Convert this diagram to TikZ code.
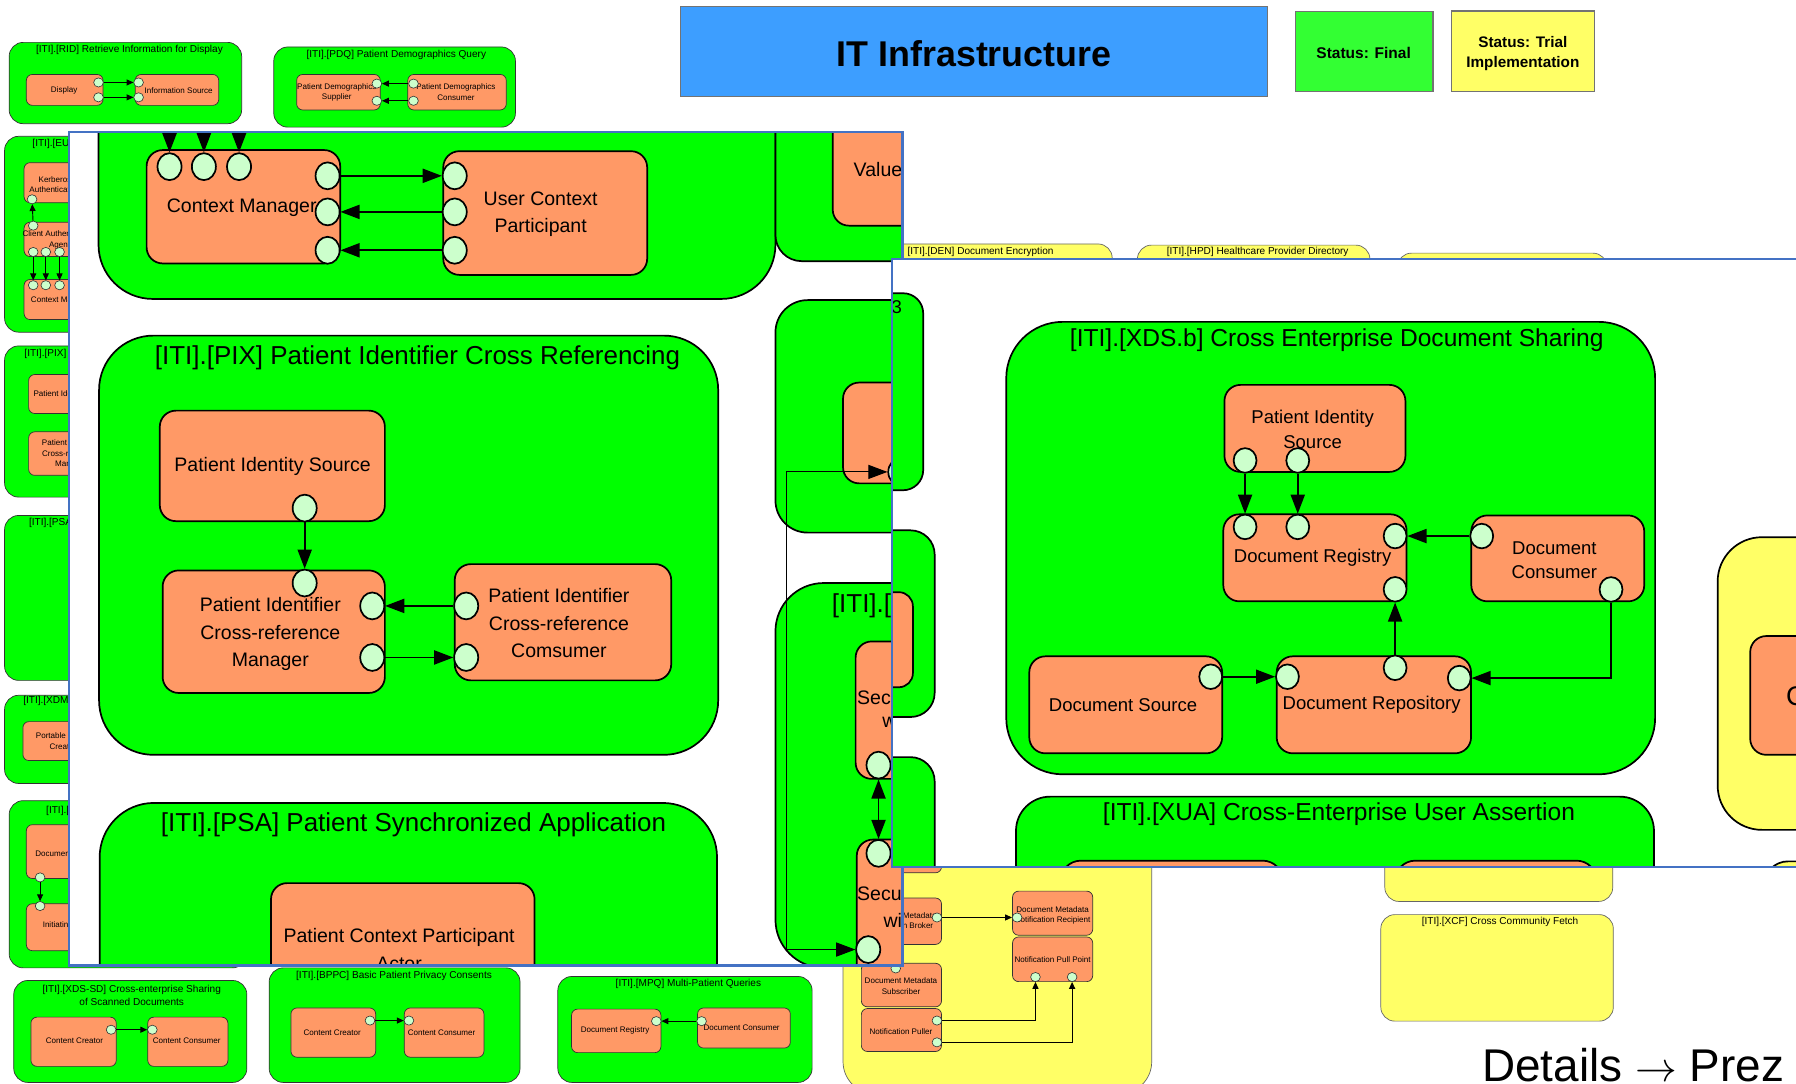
\documentclass[tikz,border=0pt]{standalone}
\usepackage{fontspec}
\setmainfont{Liberation Sans}
\usetikzlibrary{arrows.meta,shapes.geometric}
\definecolor{grpgreen}{RGB}{0,255,0}
\definecolor{actorfill}{RGB}{255,153,102}
\definecolor{portfill}{RGB}{204,255,204}
\definecolor{trialyellow}{RGB}{255,255,102}
\definecolor{finalgreen}{RGB}{51,255,51}
\definecolor{titleblue}{RGB}{61,158,255}
\definecolor{panelblue}{RGB}{68,114,196}
\begin{document}
\begin{tikzpicture}[x=0.02cm,y=0.02cm]
\tikzstyle{every node}+=[inner sep=0pt]
\tikzstyle{hdr}=[draw=black!55, line width=0.6pt]
\tikzstyle{sgrp}=[fill=grpgreen, draw=black!80, line width=0.35pt, rounded corners=7pt]
\tikzstyle{ygrp}=[fill=trialyellow, draw=black!60, line width=0.35pt, rounded corners=7pt]
\tikzstyle{sact}=[fill=actorfill, draw=black!80, line width=0.35pt, rounded corners=3pt]
\tikzstyle{sport}=[ellipse, draw=black!80, fill=portfill, line width=0.3pt, minimum width=0.17cm, minimum height=0.16cm]
\tikzstyle{slink}=[line width=0.45pt, -{Triangle[length=3.4pt,width=3pt]}]
\tikzstyle{stxt}=[font=\fontsize{4}{5.1}\selectfont, align=center]
\tikzstyle{sttl}=[font=\fontsize{5}{6.5}\selectfont, align=center]
\tikzstyle{grp}=[fill=grpgreen, draw=black, line width=0.85pt, rounded corners=27pt]
\tikzstyle{ypgrp}=[fill=trialyellow, draw=black, line width=0.85pt, rounded corners=22pt]
\tikzstyle{act}=[fill=actorfill, draw=black, line width=0.85pt, rounded corners=8pt]
\tikzstyle{port}=[ellipse, draw=black, fill=portfill, line width=0.85pt, minimum width=0.42cm, minimum height=0.47cm]
\tikzstyle{rport}=[port, minimum width=0.4cm, minimum height=0.43cm]
\tikzstyle{link}=[line width=0.85pt, -{Triangle[length=9.5pt,width=7pt]}]
\tikzstyle{blink}=[line width=0.85pt, {Triangle[length=9.5pt,width=7pt]}-{Triangle[length=9.5pt,width=7pt]}]
\tikzstyle{tlink}=[line width=0.5pt, {Triangle[length=9.5pt,width=7pt]}-{Triangle[length=9.5pt,width=7pt]}]
\tikzstyle{ltxt}=[font=\fontsize{9.7}{13.8}\selectfont, align=center]
\tikzstyle{lttl}=[font=\fontsize{12.9}{15}\selectfont]
\tikzstyle{rtxt}=[font=\fontsize{9.2}{12.3}\selectfont, align=center]
\tikzstyle{rttl}=[font=\fontsize{12.2}{14}\selectfont]
\tikzstyle{panel}=[draw=panelblue, line width=1.1pt]
\useasboundingbox (0,0) rectangle (1568,-946);
\clip (0,0) rectangle (1568,-946);
\fill [white] (0,0) rectangle (1568,-946);

\draw [hdr, fill=titleblue] (594.4,-5.8) rectangle (1106.5,-84.4);
\node [font=\bfseries\fontsize{17.8}{20}\selectfont] (itinfra) at (850.4,-47) {IT Infrastructure};
\draw [hdr, fill=finalgreen] (1131,-10) rectangle (1251,-80);
\node [font=\bfseries\fontsize{7.7}{9.9}\selectfont] (stfinal) at (1190.5,-46) {Status: Final};
\draw [hdr, fill=trialyellow] (1267,-9.6) rectangle (1392,-80);
\node [font=\bfseries\fontsize{7.6}{9.9}\selectfont, align=center] (sttrial) at (1329.5,-47) {Status: Trial\\Implementation};

\draw [sgrp] (8,-37) rectangle (211,-108);
\node [sttl] (ridttl) at (113,-44) {[ITI].[RID] Retrieve Information for Display};
\draw [sact] (23,-65) rectangle (90,-92);
\node [stxt] (ridd) at (56,-79) {Display};
\draw [sact] (118,-65) rectangle (191,-92);
\node [stxt] (ridi) at (156,-79) {Information Source};
\node [sport] (ridd1) at (86,-72) {};
\node [sport] (ridd2) at (86,-85) {};
\node [sport] (ridi1) at (121,-72) {};
\node [sport] (ridi2) at (121,-85) {};
\draw [slink] (ridd1) -- (ridi1);
\draw [slink] (ridd2) -- (ridi2);

\draw [sgrp] (239,-41) rectangle (450,-111);
\node [sttl] (pdqttl) at (346,-48) {[ITI].[PDQ] Patient Demographics Query};
\draw [sact] (259,-65) rectangle (332,-96);
\node [stxt] (pdqs) at (294,-80.5) {Patient Demographics\\Supplier};
\draw [sact] (356,-65) rectangle (442,-96);
\node [stxt] (pdqc) at (398,-80.5) {Patient Demographics\\Consumer};
\node [sport] (pdqs1) at (329,-73) {};
\node [sport] (pdqs2) at (329,-88) {};
\node [sport] (pdqc1) at (361,-73) {};
\node [sport] (pdqc2) at (361,-88) {};
\draw [slink] (pdqc1) -- (pdqs1);
\draw [slink] (pdqc2) -- (pdqs2);

\draw [sgrp] (4,-119) rectangle (215,-290);
\node [sttl, anchor=west] (euattl) at (28,-126) {[ITI].[EUA]};
\draw [sact] (21,-142) rectangle (110,-177);
\node [stxt] (euak) at (48,-161) {Kerberos\\Authentication};
\node [sport] (euaka) at (28,-174) {};
\draw [sact] (21,-194) rectangle (110,-224);
\node [stxt] (euac) at (52,-209.5) {Client Authentication\\Agent};
\node [sport] (euact) at (29,-197) {};
\node [sport] (euacb1) at (29,-220) {};
\node [sport] (euacb2) at (40,-220) {};
\node [sport] (euacb3) at (52,-220) {};
\draw [sact] (21,-244) rectangle (110,-279);
\node [stxt] (euacm) at (54,-262) {Context Manager};
\node [sport] (euacm1) at (29,-249) {};
\node [sport] (euacm2) at (40,-249) {};
\node [sport] (euacm3) at (52,-249) {};
\draw [slink] (euact) -- (euaka);
\draw [slink] (euacb1) -- (euacm1);
\draw [slink] (euacb2) -- (euacm2);
\draw [slink] (euacb3) -- (euacm3);

\draw [sgrp] (4,-302) rectangle (215,-434);
\node [sttl, anchor=west] (pixsttl) at (21,-309) {[ITI].[PIX]};
\draw [sact] (25,-327) rectangle (110,-361);
\node [stxt, anchor=west] (pixs1) at (29,-344) {Patient Identity Source};
\draw [sact] (25,-377) rectangle (110,-415);
\node [stxt] (pixs2) at (62,-396.5) {Patient Identifier\\Cross-reference\\Manager};

\draw [sgrp] (4,-450) rectangle (215,-594);
\node [sttl, anchor=west] (psasttl) at (25,-456.5) {[ITI].[PSA]};

\draw [sgrp] (4,-607) rectangle (215,-684);
\node [sttl, anchor=west] (xdmttl) at (20,-612) {[ITI].[XDM]};
\draw [sact] (20,-630) rectangle (110,-664);
\node [stxt] (xdma) at (55,-647) {Portable Media\\Creator};

\draw [sgrp] (8,-699) rectangle (215,-845);
\node [sttl, anchor=west] (xdrttl) at (40,-708) {[ITI].[XDR]};
\draw [sact] (23,-720) rectangle (110,-767);
\node [stxt, anchor=west] (xdra) at (30.5,-745) {Document};
\draw [sact] (23,-789) rectangle (110,-830);
\node [stxt, anchor=west] (xdrb) at (37,-808) {Initiating};
\node [sport] (xdrp1) at (35,-766) {};
\node [sport] (xdrp2) at (35,-791) {};
\draw [slink] (xdrp1) -- (xdrp2);

\draw [sgrp] (12,-856) rectangle (215.5,-945);
\node [sttl] (xdssdttl) at (115,-869) {[ITI].[XDS-SD] Cross-enterprise Sharing\\of Scanned Documents};
\draw [sact] (27,-888) rectangle (101.5,-931);
\node [stxt] (sdcr) at (65,-909) {Content Creator};
\draw [sact] (129,-888) rectangle (199,-931);
\node [stxt] (sdcc) at (163,-909) {Content Consumer};
\node [sport] (sdcrp) at (97,-899) {};
\node [sport] (sdccp) at (133,-899) {};
\draw [slink] (sdcrp) -- (sdccp);

\draw [sgrp] (235,-845) rectangle (454,-945);
\node [sttl] (bppcttl) at (344,-852) {[ITI].[BPPC] Basic Patient Privacy Consents};
\draw [sact] (254,-880) rectangle (328,-923);
\node [stxt] (bpcr) at (290,-902) {Content Creator};
\draw [sact] (353,-880) rectangle (422.5,-923);
\node [stxt] (bpcc) at (385.5,-902) {Content Consumer};
\node [sport] (bpcrp) at (323,-891) {};
\node [sport] (bpccp) at (357,-891) {};
\draw [slink] (bpcrp) -- (bpccp);

\draw [sgrp] (487,-852.5) rectangle (709,-945);
\node [sttl] (mpqttl) at (601,-859) {[ITI].[MPQ] Multi-Patient Queries};
\draw [sact] (499,-881) rectangle (577,-919);
\node [stxt] (mpqr) at (537,-900) {Document Registry};
\draw [sact] (609,-880) rectangle (690,-915);
\node [stxt] (mpqc) at (647.5,-897.5) {Document Consumer};
\node [sport] (mpqrp) at (573,-891.5) {};
\node [sport] (mpqcp) at (612.5,-891.5) {};
\draw [slink] (mpqcp) -- (mpqrp);

\draw [ygrp, rounded corners=16pt] (736,-700) rectangle (1005.5,-955);
\draw [sact] (752,-700) rectangle (822,-762);
\draw [sact] (752,-784) rectangle (822,-824.5);
\node [stxt] (ynb) at (786,-804) {Document Metadata\\Notification Broker};
\draw [sact] (884,-778) rectangle (954,-816.5);
\node [stxt] (ynr) at (919,-799) {Document Metadata\\Notification Recipient};
\draw [sact] (884,-818) rectangle (954,-857);
\node [stxt] (ynpp) at (919,-838) {Notification Pull Point};
\draw [sact] (752,-841) rectangle (822,-879);
\node [stxt] (yns) at (786.6,-861) {Document Metadata\\Subscriber};
\draw [sact] (752,-880.5) rectangle (822,-918);
\node [stxt] (ynpl) at (786.6,-900.6) {Notification Puller};
\node [sport] (ynbp) at (818,-801) {};
\node [sport] (ynrp) at (888,-801) {};
\node [sport] (ynpp1) at (904,-853) {};
\node [sport] (ynpp2) at (936,-853) {};
\node [sport] (ynsp) at (782,-845.5) {};
\node [sport] (ynpl1) at (818,-891) {};
\node [sport] (ynpl2) at (818,-910) {};
\draw [slink] (ynbp) -- (ynrp);
\draw [slink] (ynpl1) -| (ynpp1);
\draw [slink] (ynpl2) -| (ynpp2);

\draw [ygrp] (740,-213) rectangle (971,-400);
\node [sttl] (denttl) at (856,-219.5) {[ITI].[DEN] Document Encryption};
\draw [ygrp] (993,-214) rectangle (1196,-400);
\node [sttl] (hpdttl) at (1098,-220) {[ITI].[HPD] Healthcare Provider Directory};
\draw [ygrp] (1220,-221) rectangle (1403,-400);
\draw [ygrp] (1209,-600) rectangle (1408,-787);
\draw [ygrp] (1205.5,-798.5) rectangle (1408.5,-891.5);
\node [sttl] (xcfttl) at (1309.6,-805) {[ITI].[XCF] Cross Community Fetch};
\node [anchor=base west, font=\fontsize{22.8}{26}\selectfont] (details) at (1293.6,-944) {Details $\rightarrow$ Prez};

\fill [white] (60,-115) rectangle (788,-843);
\begin{scope}
\clip (60,-115) rectangle (788,-843);
\draw [grp] (86,-30) rectangle (677,-261);
\draw [act] (128,-131) rectangle (297,-230);
\node [ltxt] (cmlbl) at (211,-181) {Context Manager};
\draw [act] (387,-132) rectangle (565,-240);
\node [ltxt] (ucplbl) at (472,-187) {User Context\\Participant};
\coordinate (cmin1) at (148,-100);
\coordinate (cmin2) at (178,-100);
\coordinate (cmin3) at (208.7,-100);
\node [port] (cmt1) at (148,-145.5) {};
\node [port] (cmt2) at (178,-145.5) {};
\node [port] (cmt3) at (208.7,-145.5) {};
\node [port] (cmr1) at (286,-153.5) {};
\node [port] (cmr2) at (286,-185) {};
\node [port] (cmr3) at (286,-218.5) {};
\node [port] (ucl1) at (397,-153.5) {};
\node [port] (ucl2) at (397,-185) {};
\node [port] (ucl3) at (397,-218.5) {};
\draw [link] (cmin1) -- (cmt1);
\draw [link] (cmin2) -- (cmt2);
\draw [link] (cmin3) -- (cmt3);
\draw [link] (cmr1) -- (ucl1);
\draw [link] (ucl2) -- (cmr2);
\draw [link] (ucl3) -- (cmr3);

\draw [grp, rounded corners=13pt] (677,-30) rectangle (900,-228);
\draw [act] (727,-30) rectangle (900,-197);
\node [ltxt, anchor=west] (vallbl) at (745,-148) {Value};

\draw [grp, rounded corners=16pt] (677,-262) rectangle (900,-465);
\draw [act] (736,-334) rectangle (900,-422);
\node [port] (p3) at (786,-412) {};

\draw [grp, rounded corners=24pt] (677,-509) rectangle (900,-845);
\node [lttl, anchor=west] (gttl) at (726,-529) {[ITI].[};
\draw [act] (747,-560) rectangle (900,-680);
\node [ltxt, anchor=west] (s1a) at (748,-609) {Secu};
\node [ltxt, anchor=west] (s1b) at (770,-631) {w};
\node [port] (s1p) at (767,-668) {};
\draw [act] (748,-733) rectangle (900,-900);
\node [ltxt, anchor=west] (s2a) at (748,-780) {Secu};
\node [ltxt, anchor=west] (s2b) at (771,-804) {wi};
\node [port] (s2t) at (767,-745) {};
\node [port] (s2l) at (758,-829) {};
\coordinate (bend) at (687,-412);
\draw [blink] (s1p) -- (s2t);
\draw [tlink] (p3.west) -- (bend) |- (s2l.west);

\draw [grp] (86.5,-293) rectangle (627,-659);
\node [lttl] (pixttl) at (364.5,-312) {[ITI].[PIX] Patient Identifier Cross Referencing};
\draw [act] (139.5,-358.5) rectangle (336,-455);
\node [ltxt] (pislbl) at (238,-407.5) {Patient Identity Source};
\draw [act] (142,-498) rectangle (336,-605);
\node [ltxt] (pxmlbl) at (236,-553.5) {Patient Identifier\\Cross-reference\\Manager};
\draw [act] (397,-492.5) rectangle (586,-594);
\node [ltxt] (pxclbl) at (488,-544) {Patient Identifier\\Cross-reference\\Comsumer};
\node [port] (pis) at (266,-443.6) {};
\node [port] (pxt) at (266,-509) {};
\node [port] (pxr1) at (325,-529) {};
\node [port] (pxr2) at (325,-574) {};
\node [port] (pcl1) at (407,-529) {};
\node [port] (pcl2) at (407,-574) {};
\draw [link] (pis) -- (pxt);
\draw [link] (pcl1) -- (pxr1);
\draw [link] (pxr2) -- (pcl2);

\draw [grp] (87,-701) rectangle (626,-1000);
\node [lttl] (psattl) at (361,-720) {[ITI].[PSA] Patient Synchronized Application};
\draw [act] (236.6,-771) rectangle (466.7,-1000);
\node [ltxt] (pcplbl) at (348.4,-818) {Patient Context Participant};
\node [ltxt, anchor=north] (pcplbl2) at (348.4,-835) {Actor};
\end{scope}
\draw [panel] (60,-115) rectangle (788,-843);

\fill [white] (779,-226) rectangle (1600,-757);
\begin{scope}
\clip (779,-226) rectangle (1600,-757);
\draw [grp, rounded corners=10pt] (700,-256) rectangle (806,-428);
\node [rtxt] (strip3) at (783,-268) {3};
\draw [grp, rounded corners=12pt] (700,-463) rectangle (816,-626);
\draw [act, rounded corners=7pt] (700,-517) rectangle (797,-600);
\draw [grp, rounded corners=12pt] (700,-661) rectangle (816,-900);

\draw [grp, rounded corners=28pt] (878.5,-281) rectangle (1445,-676);
\node [rttl] (xdsttl) at (1167,-297) {[ITI].[XDS.b] Cross Enterprise Document Sharing};
\draw [act] (1069,-336) rectangle (1227,-412);
\node [rtxt] (xpislbl) at (1146,-375) {Patient Identity\\Source};
\draw [act] (1068,-449) rectangle (1228,-525);
\node [rtxt] (regl) at (1146,-487) {Document Registry};
\draw [act] (1284.5,-450) rectangle (1435.5,-525);
\node [rtxt] (dcl) at (1357,-489) {Document\\Consumer};
\draw [act] (898.6,-573) rectangle (1067,-657.7);
\node [rtxt] (srcl) at (980.5,-615.5) {Document Source};
\draw [act] (1114.6,-573) rectangle (1284.3,-657.7);
\node [rtxt] (repl) at (1197.5,-615.5) {Document Repository};
\node [rport] (xa) at (1087,-402) {};
\node [rport] (xb) at (1133,-402) {};
\node [rport] (rt1) at (1087,-460) {};
\node [rport] (rt2) at (1133,-460) {};
\node [rport] (rr1) at (1218,-468) {};
\node [rport] (rr2) at (1218,-514.5) {};
\node [rport] (dcp1) at (1293.6,-468) {};
\node [rport] (dcp2) at (1406.5,-514.6) {};
\node [rport] (srcp) at (1057,-590.8) {};
\node [rport] (repp1) at (1124,-590.8) {};
\node [rport] (repp2) at (1218,-583) {};
\node [rport] (repp3) at (1274,-592) {};
\draw [link] (xa) -- (rt1);
\draw [link] (xb) -- (rt2);
\draw [link] (dcp1) -- (rr1);
\draw [link] (repp2) -- (rr2);
\draw [link] (srcp) -- (repp1);
\draw [link] (dcp2) |- (repp3);

\draw [grp, rounded corners=17pt] (887,-695.5) rectangle (1444,-900);
\node [rttl] (xuattl) at (1169,-711) {[ITI].[XUA] Cross-Enterprise User Assertion};
\draw [act, rounded corners=10pt] (926,-751.4) rectangle (1120,-900);
\draw [act, rounded corners=10pt] (1218,-751.4) rectangle (1394,-900);

\draw [ypgrp] (1499.6,-469) rectangle (1700,-724.5);
\draw [act] (1528,-555.3) rectangle (1700,-659);
\node [font=\fontsize{13.4}{15}\selectfont, anchor=west] (yrc) at (1559,-608) {C};
\draw [ypgrp, rounded corners=12pt] (1540,-752) rectangle (1700,-900);
\end{scope}
\draw [panel] (1600,-226) -- (779,-226) -- (779,-757) -- (1600,-757);
\end{tikzpicture}
\end{document}
